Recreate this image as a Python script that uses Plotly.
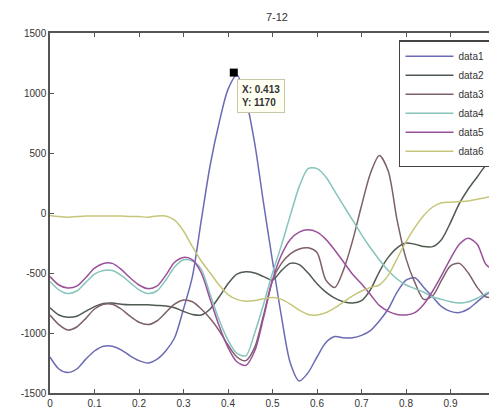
import plotly.graph_objects as go

x_vals = [round(i * 0.02, 2) for i in range(51)]

data1 = [-1200, -1300, -1330, -1300, -1220, -1150, -1110, -1110, -1140, -1190,
         -1230, -1250, -1220, -1150, -1040, -800, -530, -60, 400, 750,
         1030, 1150, 950, 580, 80, -400, -860, -1250, -1400, -1330,
         -1200, -1080, -1030, -1040, -1040, -1020, -980, -900, -800, -660,
         -560, -540, -620, -700, -780, -820, -830, -800, -740, -680, -640]

data2 = [-790, -850, -868, -860, -820, -780, -755, -750, -760, -765,
         -765, -765, -770, -775, -790, -820, -845, -850, -800, -700,
         -590, -510, -490, -500, -530, -560, -480, -420, -430, -500,
         -590, -660, -710, -740, -750, -730, -640, -490, -370, -290,
         -250, -260, -280, -280, -220, -80, 80, 200, 300, 400, 450]

data3 = [-850, -930, -975, -950, -880, -800, -760, -760, -800, -860,
         -910, -930, -900, -830, -760, -725, -740, -800, -880, -980,
         -1100, -1200, -1230, -1120, -850, -560, -420, -340, -300, -290,
         -330, -560, -620, -470, -230, 60, 330, 480, 350, -60,
         -380, -580, -720, -690, -560, -440, -420, -500, -620, -700, -700]

data4 = [-570, -640, -670, -650, -580, -510, -480, -480, -520, -580,
         -640, -670, -650, -560, -450, -390, -400, -470, -680, -890,
         -1060, -1170, -1190, -1000, -760, -500, -270, -20, 220, 370,
         370, 300, 180, 60, -60, -180, -290, -390, -480, -550,
         -600, -630, -660, -700, -720, -740, -750, -740, -710, -670, -640]

data5 = [-530, -600, -625, -610, -540, -460, -420, -420, -470, -540,
         -600, -630, -610, -520, -410, -370, -390, -500, -720, -940,
         -1120, -1240, -1270, -1150, -870, -560, -350, -220, -160, -140,
         -160, -220, -310, -410, -510, -590, -680, -770, -820, -845,
         -850, -830, -760, -650, -520, -380, -260, -210, -260, -430, -480]

data6 = [-20, -30, -35, -30, -25, -25, -25, -25, -25, -30,
         -30, -35, -25, -25, -60, -150, -280, -400, -500, -600,
         -680, -720, -735, -730, -715, -705, -720, -760, -810, -845,
         -850, -830, -790, -740, -690, -650, -620, -600, -520, -380,
         -240, -120, -20, 50, 85, 90, 95, 100, 115, 130, 140]

series_names = ["data1", "data2", "data3", "data4", "data5", "data6"]
series_colors = ["#6b6bb5", "#4f5a50", "#7d6068", "#86c4bc", "#9a509a", "#c6c67a"]

x_ticks = [0, 0.1, 0.2, 0.3, 0.4, 0.5, 0.6, 0.7, 0.8, 0.9, 1]
x_tick_labels = ["0", "0.1", "0.2", "0.3", "0.4", "0.5", "0.6", "0.7", "0.8", "0.9", "1"]
y_ticks = [-1500, -1000, -500, 0, 500, 1000, 1500]
y_tick_labels = ["-1500", "-1000", "-500", "0", "500", "1000", "1500"]

datatip_x = 0.413
datatip_y = 1170

fig = go.Figure()
for name, ys, col in zip(series_names, [data1, data2, data3, data4, data5, data6], series_colors):
    fig.add_trace(go.Scatter(x=x_vals, y=ys, name=name, mode="lines",
                             line=dict(color=col, width=1.5, shape="spline", smoothing=0.8)))

fig.add_trace(go.Scatter(x=[datatip_x], y=[datatip_y], mode="markers", showlegend=False,
                         marker=dict(symbol="square", size=8, color="black")))

fig.add_annotation(x=datatip_x, y=datatip_y, xref="x", yref="y",
                   text=f"<b>X: {datatip_x}</b><br><b>Y: {datatip_y}</b>",
                   showarrow=False, xanchor="left", yanchor="top", align="left",
                   xshift=3, yshift=-6,
                   font=dict(family="Liberation Sans, Arial", size=10, color="#333"),
                   bgcolor="#fffff2", bordercolor="#c8c8a8", borderwidth=1, borderpad=4)

axis_common = dict(showgrid=False, zeroline=False, showline=True, linecolor="#555",
                   linewidth=1.5, mirror="ticks", ticks="inside", ticklen=4,
                   tickcolor="#555",
                   tickfont=dict(family="Liberation Sans, Arial", size=10, color="#333"))

fig.update_layout(
    width=489, height=407,
    margin=dict(l=42, r=0, t=25, b=22),
    paper_bgcolor="white", plot_bgcolor="white",
    title=dict(text="7-12", x=0.55, xanchor="center", y=0.978, yanchor="middle",
               font=dict(family="Liberation Sans, Arial", size=11, color="#333")),
    xaxis=dict(range=[0, 1], tickvals=x_ticks, ticktext=x_tick_labels, **axis_common),
    yaxis=dict(range=[-1500, 1500], tickvals=y_ticks, ticktext=y_tick_labels, **axis_common),
    legend=dict(x=0.991, y=0.98, xanchor="right", yanchor="top",
                bgcolor="white", bordercolor="#444", borderwidth=1.5,
                font=dict(family="Liberation Sans, Arial", size=10, color="#333"),
                itemwidth=48, tracegroupgap=0),
    showlegend=True,
)

fig.write_html("out.html")
